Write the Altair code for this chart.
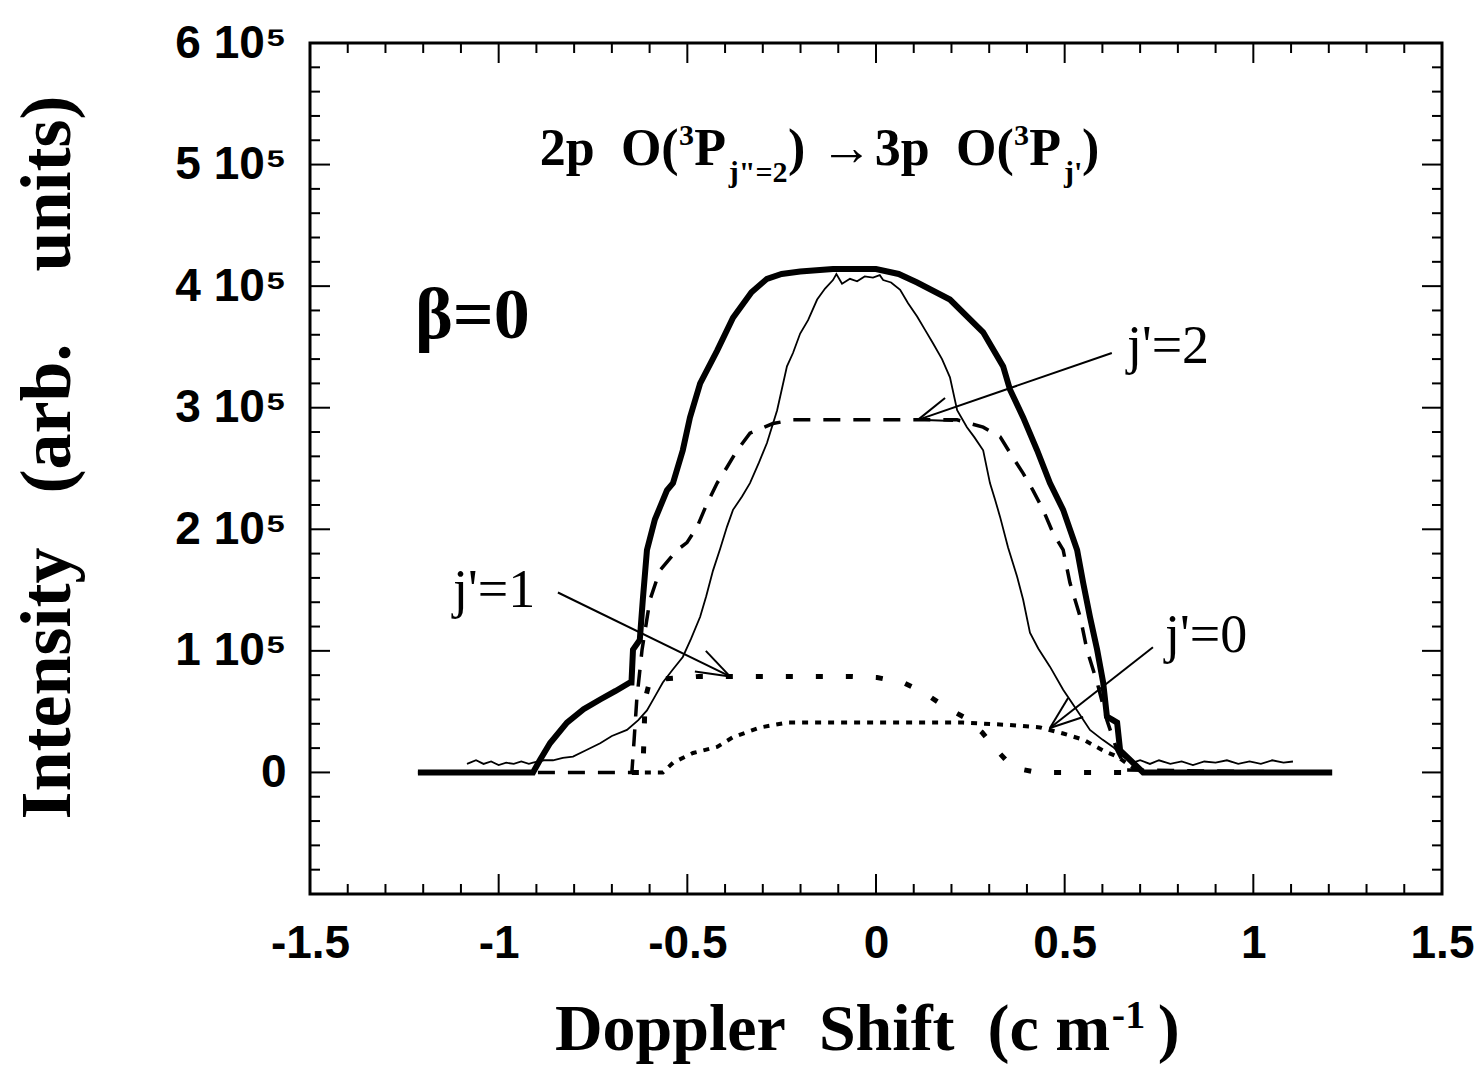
import altair as alt
import pandas as pd

# ---------------- data (y in units of 10^5) ----------------
# total simulated profile (thick line)
tot_x = [-1.214, -0.909, -0.891, -0.864, -0.819, -0.775, -0.731, -0.69, -0.652, -0.648,
         -0.644, -0.626, -0.618, -0.607, -0.586, -0.554, -0.538, -0.512, -0.493, -0.466,
         -0.421, -0.379, -0.33, -0.289, -0.25, -0.201, -0.114, 0.0, 0.06, 0.109,
         0.196, 0.284, 0.337, 0.355, 0.390, 0.427, 0.461, 0.496, 0.533, 0.549,
         0.567, 0.586, 0.602, 0.612, 0.628, 0.639, 0.647, 0.681, 0.708, 1.209]
tot_y = [0, 0, 0.10, 0.24, 0.41, 0.52, 0.60, 0.67, 0.74, 0.74,
         1.01, 1.09, 1.42, 1.83, 2.08, 2.32, 2.38, 2.65, 2.92, 3.20,
         3.47, 3.74, 3.95, 4.06, 4.10, 4.12, 4.14, 4.14, 4.10, 4.03,
         3.89, 3.62, 3.34, 3.15, 2.92, 2.65, 2.38, 2.16, 1.83, 1.56,
         1.28, 1.01, 0.74, 0.46, 0.43, 0.41, 0.18, 0.08, 0, 0]

# experimental profile (thin noisy line)
exp_x = [-1.084, -1.06, -1.04, -1.02, -1.00, -0.98, -0.96, -0.94, -0.92, -0.909,
         -0.88, -0.856, -0.83, -0.803, -0.77, -0.731, -0.70, -0.660, -0.63, -0.607,
         -0.585, -0.565, -0.54, -0.512, -0.49, -0.466, -0.45, -0.432, -0.413, -0.395,
         -0.379, -0.355, -0.334, -0.31, -0.289, -0.262, -0.236, -0.22, -0.201, -0.18,
         -0.156, -0.135, -0.114, -0.105, -0.09, -0.069, -0.05, -0.03, -0.008, 0.01,
         0.019, 0.04, 0.064, 0.085, 0.109, 0.13, 0.151, 0.175, 0.196, 0.215,
         0.241, 0.26, 0.284, 0.302, 0.315, 0.329, 0.35, 0.374, 0.390, 0.408,
         0.43, 0.461, 0.496, 0.533, 0.567, 0.60, 0.628, 0.655, 0.681, 0.70,
         0.726, 0.75, 0.78, 0.81, 0.84, 0.87, 0.90, 0.93, 0.96, 0.99,
         1.02, 1.05, 1.08, 1.105]
exp_y = [0.07, 0.10, 0.07, 0.09, 0.06, 0.08, 0.07, 0.09, 0.07, 0.08,
         0.10, 0.10, 0.12, 0.13, 0.18, 0.24, 0.30, 0.35, 0.43, 0.51,
         0.63, 0.74, 0.84, 0.95, 1.10, 1.28, 1.45, 1.66, 1.84, 2.02,
         2.16, 2.27, 2.38, 2.55, 2.71, 2.98, 3.34, 3.45, 3.61, 3.72,
         3.89, 3.98, 4.05, 4.10, 4.02, 4.06, 4.04, 4.08, 4.07, 4.09,
         4.05, 4.03, 3.97, 3.86, 3.75, 3.64, 3.53, 3.40, 3.25, 2.98,
         2.84, 2.76, 2.65, 2.38, 2.25, 2.10, 1.85, 1.61, 1.42, 1.15,
         1.02, 0.87, 0.68, 0.51, 0.35, 0.27, 0.21, 0.13, 0.08, 0.10,
         0.07, 0.10, 0.07, 0.09, 0.06, 0.09, 0.08, 0.10, 0.07, 0.09,
         0.07, 0.10, 0.08, 0.09]

# j'=2 component (dashed)
j2_x = [-1.214, -0.647, -0.641, -0.634, -0.620, -0.599, -0.573, -0.527, -0.501, -0.474,
        -0.448, -0.421, -0.395, -0.368, -0.334, -0.273, -0.220, 0.215, 0.284, 0.329,
        0.363, 0.390, 0.416, 0.443, 0.469, 0.496, 0.514, 0.541, 0.559, 0.586,
        0.612, 0.639, 0.665, 1.209]
j2_y = [0, 0, 0.27, 0.60, 1.01, 1.42, 1.66, 1.83, 1.89, 2.02,
        2.21, 2.38, 2.51, 2.65, 2.79, 2.87, 2.90, 2.90, 2.84, 2.76,
        2.59, 2.46, 2.32, 2.16, 1.97, 1.83, 1.56, 1.28, 1.01, 0.74,
        0.43, 0.18, 0.02, 0]

# j'=1 component (coarse dots)
j1_x = [-0.647, -0.618, -0.615, -0.612, -0.599, -0.469, -0.069, 0.003, 0.072, 0.130,
        0.183, 0.236, 0.281, 0.321, 0.363, 0.427, 0.673]
j1_y = [0, 0, 0.27, 0.60, 0.76, 0.79, 0.79, 0.78, 0.74, 0.65,
        0.54, 0.45, 0.33, 0.18, 0.04, 0, 0]

# j'=0 component (fine dots)
j0_x = [-0.647, -0.565, -0.538, -0.485, -0.421, -0.379, -0.307, -0.236, 0.231, 0.355,
        0.435, 0.496, 0.549, 0.602, 0.639, 0.681, 0.708]
j0_y = [0, 0, 0.08, 0.16, 0.21, 0.29, 0.37, 0.41, 0.41, 0.39,
        0.37, 0.32, 0.27, 0.18, 0.13, 0.04, 0]

# axis ticks
x_major = [-1.5, -1.0, -0.5, 0.0, 0.5, 1.0, 1.5]
x_minor = [-1.4, -1.3, -1.2, -1.1, -0.9, -0.8, -0.7, -0.6, -0.4, -0.3, -0.2, -0.1,
           0.1, 0.2, 0.3, 0.4, 0.6, 0.7, 0.8, 0.9, 1.1, 1.2, 1.3, 1.4]
y_major = [-1, 0, 1, 2, 3, 4, 5, 6]
y_minor = [-0.8, -0.6, -0.4, -0.2, 0.2, 0.4, 0.6, 0.8, 1.2, 1.4, 1.6, 1.8,
           2.2, 2.4, 2.6, 2.8, 3.2, 3.4, 3.6, 3.8, 4.2, 4.4, 4.6, 4.8,
           5.2, 5.4, 5.6, 5.8]

NB = "\u00a0"
# annotation text (title of the transition)
title_big_text = ["2p", "O(", "P", ")", "\u2192", "3p", "O(", "P", ")"]
title_big_x = [-0.891, -0.676, -0.482, -0.233, -0.148, -0.003, 0.212, 0.406, 0.546]
title_big_y = [5.00, 5.00, 5.00, 5.00, 5.00, 5.00, 5.00, 5.00, 5.00]
title_sup_text = ["3", "3"]
title_sup_x = [-0.522, 0.366]
title_sup_y = [5.16, 5.16]
title_sub_text = ["j\"=2", "j'"]
title_sub_x = [-0.390, 0.498]
title_sub_y = [4.86, 4.86]

beta_text = ["\u03b2=0"]
beta_x = [-1.222]
beta_y = [3.57]

lab_text = ["j'=2", "j'=1", "j'=0"]
lab_x = [0.665, -1.121, 0.766]
lab_y = [3.37, 1.36, 0.99]

# x-axis title pieces (placed below the axis)
xt_text = ["Doppler" + NB + NB + "Shift" + NB + NB + "(c" + NB + "m", ")"]
xt_x = [-0.851, 0.747]
xt_y = [-2.28, -2.28]
xt_sup_text = ["-1"]
xt_sup_x = [0.625]
xt_sup_y = [-2.10]

# arrows: shaft start -> tip, plus two head arms from tip
arr_x0 = [0.625, -0.843, 0.734]
arr_y0 = [3.45, 1.48, 1.03]
arr_x1 = [0.111, -0.387, 0.461]
arr_y1 = [2.90, 0.79, 0.366]
armA_x = [0.204, -0.451, 0.549]
armA_y = [2.89, 1.00, 0.456]
armB_x = [0.183, -0.480, 0.509]
armB_y = [3.08, 0.83, 0.612]

# ---------------- chart ----------------
W, H = 1132, 851
SERIF = "Liberation Serif"
SANS = "Liberation Sans"

xs = alt.Scale(domain=[-1.5, 1.5], nice=False, zero=False)
ys = alt.Scale(domain=[-1, 6], nice=False, zero=False)

x_axis = alt.Axis(values=x_major, labelExpr="'' + datum.value", grid=False, domain=False,
                  ticks=False, labelFont=SANS, labelFontWeight="bold", labelFontSize=46,
                  labelColor="black", labelPadding=27, labelBaseline="top",
                  labelFlush=False, title="")
y_axis = alt.Axis(values=y_major,
                  labelExpr="datum.value < 0 ? '' : (datum.value == 0 ? '0' : datum.value + ' 10\u2075')",
                  grid=False, domain=False, ticks=False, labelFont=SANS, labelFontWeight="bold",
                  labelFontSize=46, labelColor="black", labelPadding=24,
                  title="Intensity" + NB * 3 + "(arb." + NB * 4 + "units)",
                  titleFont=SERIF, titleFontWeight="bold",
                  titleFontSize=72, titleColor="black", titlePadding=90, titleY=414)

X = alt.X("x:Q", scale=xs, axis=x_axis)
Y = alt.Y("y:Q", scale=ys, axis=y_axis)


def df(x, y, **extra):
    d = {"x": x, "y": y}
    d.update(extra)
    return pd.DataFrame(d)


def line(x, y, **kw):
    return alt.Chart(df(x, y)).mark_line(color="black", **kw).encode(x=X, y=Y)


thick = line(tot_x, tot_y, strokeWidth=6, strokeJoin="miter")
thin = line(exp_x, exp_y, strokeWidth=1.8)
dash2 = line(j2_x, j2_y, strokeWidth=3.5, strokeDash=[17, 13])
dot1 = line(j1_x, j1_y, strokeWidth=5, strokeDash=[7, 23])
dot0 = line(j0_x, j0_y, strokeWidth=4, strokeDash=[6, 7])


# ticks (inside the frame, mirrored on all sides)
def xticks(vals, length):
    d = df(vals, [0] * len(vals))
    bot = alt.Chart(d).mark_rule(color="black", strokeWidth=2).encode(
        x=X, y=alt.value(H), y2=alt.value(H - length))
    top = alt.Chart(d).mark_rule(color="black", strokeWidth=2).encode(
        x=X, y=alt.value(0), y2=alt.value(length))
    return [bot, top]


def yticks(vals, length):
    d = df([0] * len(vals), vals)
    left = alt.Chart(d).mark_rule(color="black", strokeWidth=2).encode(
        y=Y, x=alt.value(0), x2=alt.value(length))
    right = alt.Chart(d).mark_rule(color="black", strokeWidth=2).encode(
        y=Y, x=alt.value(W), x2=alt.value(W - length))
    return [left, right]


tick_layers = xticks(x_minor, 10) + xticks(x_major, 20) + yticks(y_minor, 10) + yticks(y_major, 20)

# arrows
arr_df = pd.DataFrame({"x": arr_x0, "y": arr_y0, "x2": arr_x1, "y2": arr_y1})
armA_df = pd.DataFrame({"x": arr_x1, "y": arr_y1, "x2": armA_x, "y2": armA_y})
armB_df = pd.DataFrame({"x": arr_x1, "y": arr_y1, "x2": armB_x, "y2": armB_y})


def seg(d, w):
    return alt.Chart(d).mark_rule(color="black", strokeWidth=w).encode(
        x=X, y=Y, x2="x2:Q", y2="y2:Q")


arrows = [seg(arr_df, 2), seg(armA_df, 2), seg(armB_df, 2)]


def texts(t, x, y, size, weight, font=SERIF, baseline="alphabetic"):
    return alt.Chart(df(x, y, t=t)).mark_text(
        font=font, fontSize=size, fontWeight=weight, align="left",
        baseline=baseline, color="black").encode(x=X, y=Y, text="t:N")


txt = [
    texts(title_big_text, title_big_x, title_big_y, 52, "bold"),
    texts(title_sup_text, title_sup_x, title_sup_y, 30, "bold"),
    texts(title_sub_text, title_sub_x, title_sub_y, 30, "bold"),
    texts(beta_text, beta_x, beta_y, 72, "bold"),
    texts(lab_text, lab_x, lab_y, 54, "normal"),
    texts(xt_text, xt_x, xt_y, 66, "bold"),
    texts(xt_sup_text, xt_sup_x, xt_sup_y, 40, "bold"),
]

chart = alt.layer(thick, *tick_layers, thin, dash2, dot1, dot0, *arrows, *txt).properties(
    width=W, height=H,
    padding={"left": 310, "top": 43, "right": 41, "bottom": 174},
    autosize=alt.AutoSizeParams(type="none"),
    background="white",
).configure_view(stroke="black", strokeWidth=3)

chart.save("out.html", embed_options={"renderer": "svg", "actions": False})
